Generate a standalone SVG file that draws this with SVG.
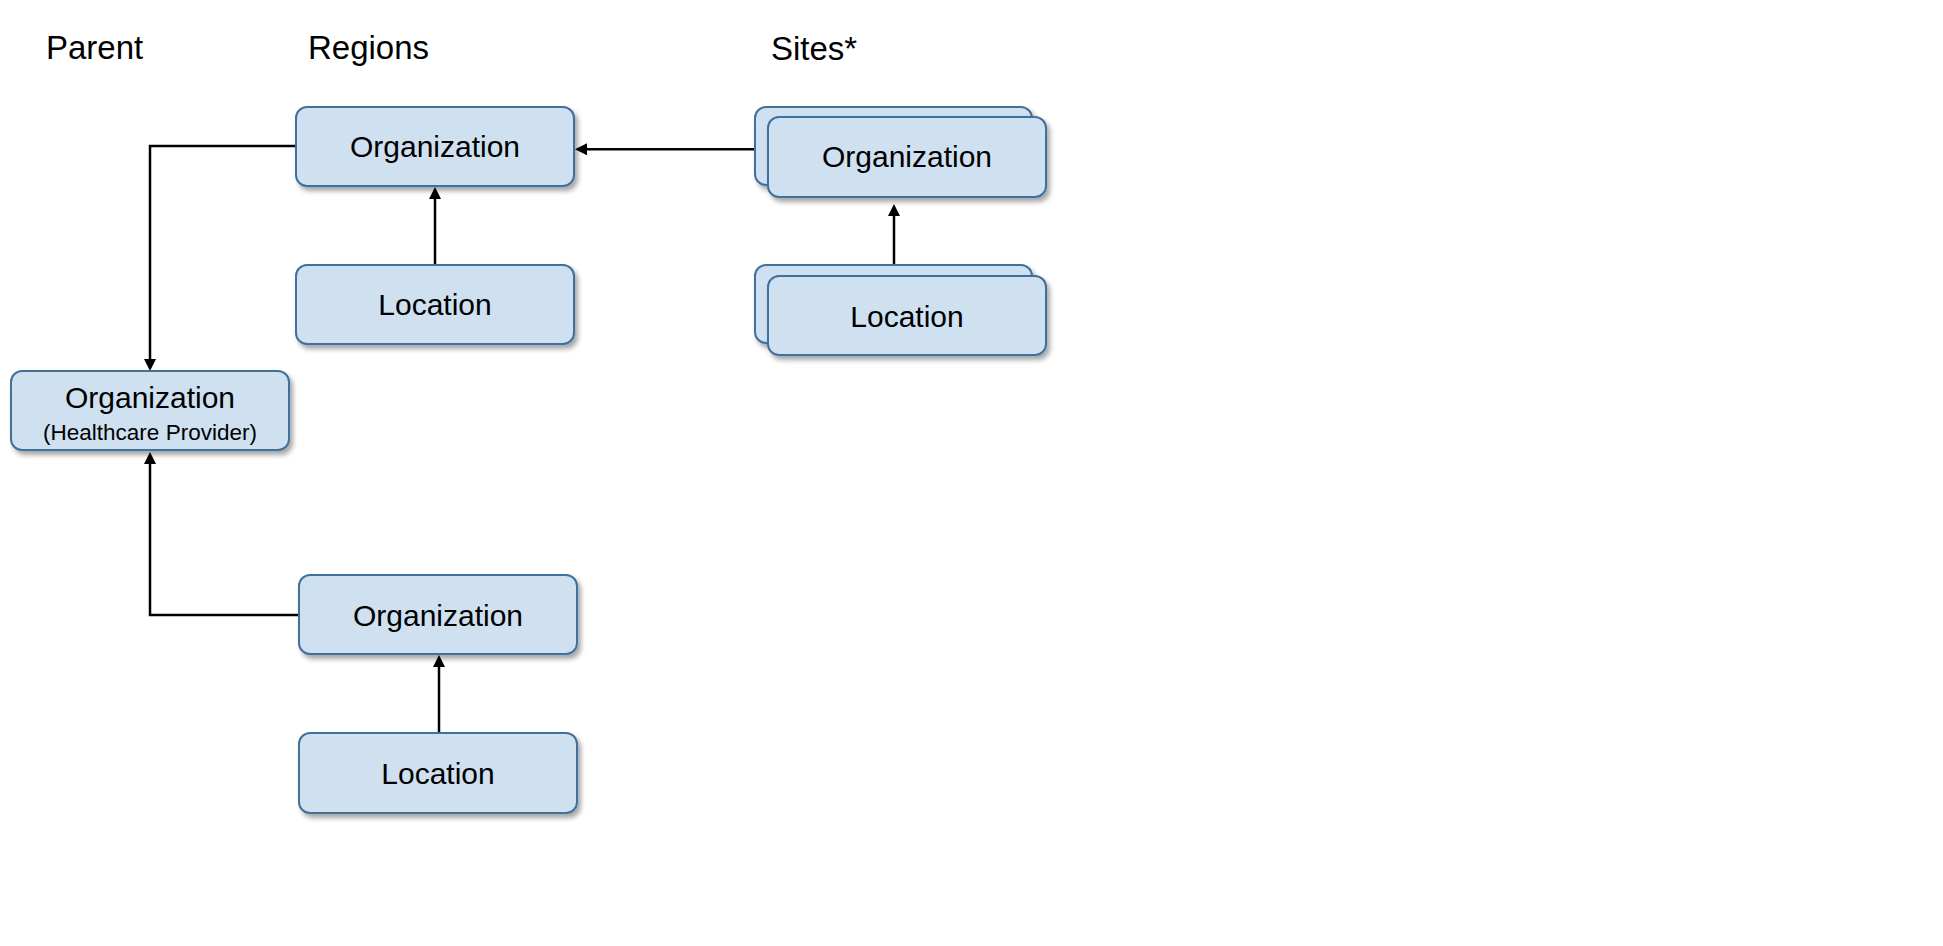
<svg xmlns="http://www.w3.org/2000/svg" width="1943" height="946" viewBox="0 0 1943 946">
<defs>
<style>
.box{fill:#cfe0f1;stroke:#41719c;stroke-width:2;filter:url(#sh)}
.hd{font-family:"Liberation Sans",Arial,sans-serif;font-size:33px;fill:#000}
.lb{font-family:"Liberation Sans",Arial,sans-serif;font-size:30px;fill:#000;text-anchor:middle}
.sm{font-family:"Liberation Sans",Arial,sans-serif;font-size:22.5px;fill:#000;text-anchor:middle}
.cn{fill:none;stroke:#000;stroke-width:2.5;marker-end:url(#ah)}
</style>
<filter id="sh" x="-10%" y="-10%" width="130%" height="140%">
<feDropShadow dx="3" dy="4" stdDeviation="2.5" flood-color="#000" flood-opacity="0.35"/>
</filter>
<marker id="ah" markerUnits="userSpaceOnUse" markerWidth="12" markerHeight="12" refX="6" refY="6" orient="auto">
<path d="M0,0 L12,6 L0,12 z" fill="#000"/>
</marker>
</defs>
<rect width="1943" height="946" fill="#fff"/>
<g id="headers">
<text class="hd" x="46" y="59">Parent</text>
<text class="hd" x="308" y="59">Regions</text>
<text class="hd" x="771" y="60">Sites*</text>
</g>
<g id="connectors">
<path class="cn" d="M296,146 H150 V365"/>
<path class="cn" d="M435,265 V193"/>
<path class="cn" d="M768,149.3 H581"/>
<path class="cn" d="M894,276 V210"/>
<path class="cn" d="M299,615 H150 V458"/>
<path class="cn" d="M439,733 V661"/>
</g>
<g id="region-org">
<rect class="box" x="296" y="107" width="278" height="79" rx="11"/>
<text class="lb" x="435" y="157">Organization</text>
</g>
<g id="region-loc">
<rect class="box" x="296" y="265" width="278" height="79" rx="11"/>
<text class="lb" x="435" y="315">Location</text>
</g>
<g id="site-org">
<rect class="box" x="755" y="107" width="277" height="78" rx="11"/>
<rect class="box" x="768" y="117" width="278" height="80" rx="11"/>
<text class="lb" x="907" y="167">Organization</text>
</g>
<g id="site-loc">
<rect class="box" x="755" y="265" width="277" height="78" rx="11"/>
<rect class="box" x="768" y="276" width="278" height="79" rx="11"/>
<text class="lb" x="907" y="327">Location</text>
</g>
<g id="parent-org">
<rect class="box" x="11" y="371" width="278" height="79" rx="11"/>
<text class="lb" x="150" y="408">Organization</text>
<text class="sm" x="150" y="440">(Healthcare Provider)</text>
</g>
<g id="bottom-org">
<rect class="box" x="299" y="575" width="278" height="79" rx="11"/>
<text class="lb" x="438" y="626">Organization</text>
</g>
<g id="bottom-loc">
<rect class="box" x="299" y="733" width="278" height="80" rx="11"/>
<text class="lb" x="438" y="784">Location</text>
</g>
</svg>
